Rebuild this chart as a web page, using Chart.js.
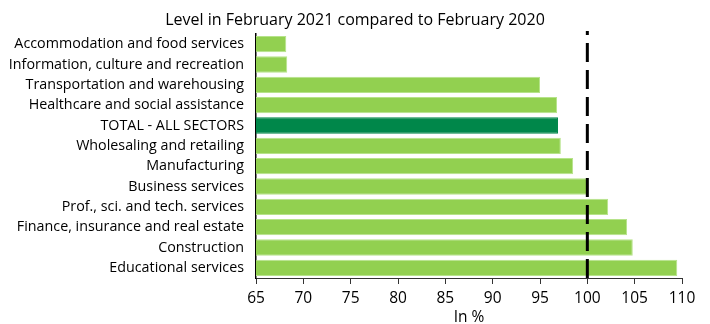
<!DOCTYPE html>
<html>
<head>
<meta charset="utf-8">
<script src="https://cdn.jsdelivr.net/npm/chart.js@4"></script>
<style>
  html, body { margin: 0; padding: 0; background: #fff; }
  #wrap { width: 710px; height: 324px; position: relative; }
</style>
</head>
<body>
<div id="wrap"><canvas id="c" width="710" height="324"></canvas></div>
<script>
const categories = [
  "Accommodation and food services",
  "Information, culture and recreation",
  "Transportation and warehousing",
  "Healthcare and social assistance",
  "TOTAL - ALL SECTORS",
  "Wholesaling and retailing",
  "Manufacturing",
  "Business services",
  "Prof., sci. and tech. services",
  "Finance, insurance and real estate",
  "Construction",
  "Educational services"
];
const levels = [68.2, 68.3, 95.0, 96.8, 96.9, 97.2, 98.5, 100.0, 102.2, 104.2, 104.8, 109.5];
const referenceLevel = 100;
const xTicks = [65, 70, 75, 80, 85, 90, 95, 100, 105, 110];
const titleText = "Level in February 2021 compared to February 2020";
const axisTitle = "In %";

const FONT = "'Open Sans', 'Noto Sans', sans-serif";

const refLine = {
  id: 'refLine',
  afterDatasetsDraw(chart) {
    const x = chart.scales.x.getPixelForValue(referenceLevel);
    const { top, bottom } = chart.chartArea;
    const ctx = chart.ctx;
    ctx.save();
    ctx.strokeStyle = '#000';
    ctx.lineWidth = 3;
    ctx.setLineDash([19, 8]);
    ctx.beginPath();
    ctx.moveTo(x, bottom);
    ctx.lineTo(x, top - 3);
    ctx.stroke();
    ctx.restore();
  }
};

new Chart(document.getElementById('c'), {
  type: 'bar',
  data: {
    labels: categories,
    datasets: [{
      data: levels,
      backgroundColor: categories.map(c => c.startsWith('TOTAL') ? '#00874A' : '#92D050'),
      borderColor: categories.map(c => c.startsWith('TOTAL') ? '#00874A' : '#B6E38A'),
      borderWidth: 1,
      borderSkipped: 'start',
      barPercentage: 0.8,
      categoryPercentage: 1.0
    }]
  },
  options: {
    indexAxis: 'y',
    responsive: false,
    animation: false,
    layout: { padding: { left: 0, right: 0, top: 0, bottom: 0 } },
    plugins: {
      legend: { display: false },
      tooltip: { enabled: false },
      title: {
        display: true,
        text: titleText,
        color: '#000',
        font: { family: FONT, size: 16, weight: 'normal' },
        padding: { top: 11, bottom: 3.8 }
      }
    },
    scales: {
      x: {
        type: 'linear',
        min: 65,
        max: 110,
        afterBuildTicks(scale) { scale.ticks = xTicks.map(v => ({ value: v })); },
        afterFit(scale) {
          scale.height = 46;
          scale.paddingRight = 28;
          scale.paddingLeft = 0;
        },
        grid: {
          display: true,
          drawOnChartArea: false,
          drawTicks: true,
          tickLength: 6,
          color: '#333'
        },
        border: { display: true, color: '#333', width: 1 },
        ticks: {
          color: '#000',
          padding: 5,
          font: { family: FONT, size: 15.5 },
          maxRotation: 0
        },
        title: {
          display: true,
          text: axisTitle,
          color: '#000',
          font: { family: FONT, size: 15.5 },
          padding: { top: 0, bottom: -3 }
        }
      },
      y: {
        afterFit(scale) { scale.width = 256; },
        grid: { display: false, drawTicks: false },
        border: { display: true, color: '#000', width: 1.5 },
        ticks: {
          color: '#000',
          padding: 12,
          font: { family: FONT, size: 14.3 },
          autoSkip: false
        }
      }
    }
  },
  plugins: [refLine]
});
</script>
</body>
</html>
